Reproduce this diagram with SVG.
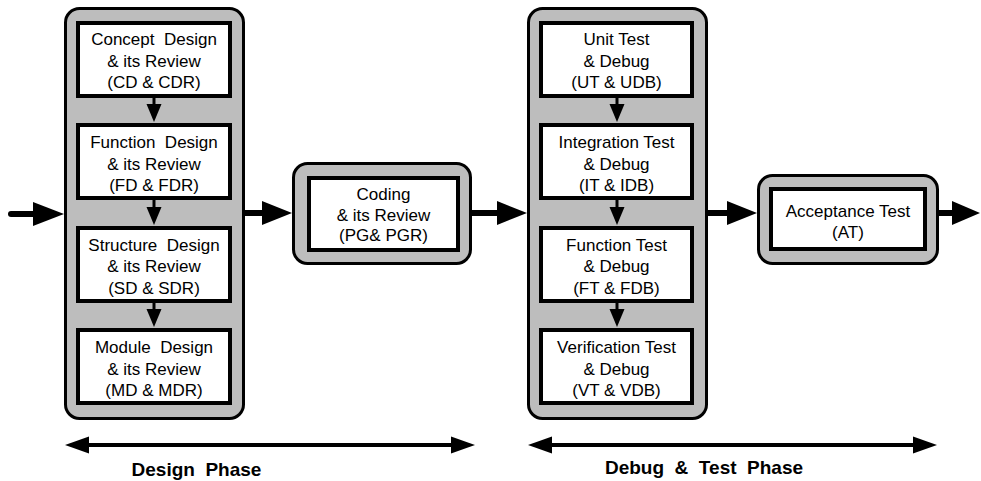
<svg xmlns="http://www.w3.org/2000/svg" width="981" height="481" viewBox="0 0 981 481">
<style>
.cont{fill:#bdbdbd;stroke:#000;stroke-width:3}
.box{fill:#fff;stroke:#000;stroke-width:4}
.t{font-family:"Liberation Sans",Arial,sans-serif;font-size:17px;fill:#000;text-anchor:middle}
.ph{font-family:"Liberation Sans",Arial,sans-serif;font-size:19px;font-weight:bold;fill:#000;text-anchor:middle}
.ln{stroke:#000;fill:none}
.hd{fill:#000}
</style>
<rect width="981" height="481" fill="#fff"/>
<g id="design-group">
<rect class="cont" x="65.5" y="8.5" width="178" height="410" rx="14"/>
</g>
<g id="cd">
<rect class="box" x="78" y="23" width="152" height="73"/>
<text class="t" x="154" y="45" xml:space="preserve">Concept  Design</text>
<text class="t" x="154" y="66.5">&amp; its Review</text>
<text class="t" x="154" y="88">(CD &amp; CDR)</text>
</g>
<g id="fd">
<rect class="box" x="78" y="125" width="152" height="73"/>
<text class="t" x="154" y="148" xml:space="preserve">Function  Design</text>
<text class="t" x="154" y="169.5">&amp; its Review</text>
<text class="t" x="154" y="191">(FD &amp; FDR)</text>
</g>
<g id="sd">
<rect class="box" x="78" y="228" width="152" height="73"/>
<text class="t" x="154" y="250.5" xml:space="preserve">Structure  Design</text>
<text class="t" x="154" y="272">&amp; its Review</text>
<text class="t" x="154" y="293.5">(SD &amp; SDR)</text>
</g>
<g id="md">
<rect class="box" x="78" y="330" width="152" height="73"/>
<text class="t" x="154" y="353" xml:space="preserve">Module  Design</text>
<text class="t" x="154" y="374.5">&amp; its Review</text>
<text class="t" x="154" y="396">(MD &amp; MDR)</text>
</g>
<g id="coding-group">
<rect class="cont" x="293.5" y="163.5" width="177" height="100" rx="14"/>
</g>
<g id="pg">
<rect class="box" x="309" y="178" width="149" height="72"/>
<text class="t" x="383.5" y="200">Coding</text>
<text class="t" x="383.5" y="220.5">&amp; its Review</text>
<text class="t" x="383.5" y="241">(PG&amp; PGR)</text>
</g>
<g id="test-group">
<rect class="cont" x="528.5" y="8.5" width="178" height="410" rx="14"/>
</g>
<g id="ut">
<rect class="box" x="541" y="23" width="151" height="73"/>
<text class="t" x="616.5" y="45">Unit Test</text>
<text class="t" x="616.5" y="66.5">&amp; Debug</text>
<text class="t" x="616.5" y="88">(UT &amp; UDB)</text>
</g>
<g id="it">
<rect class="box" x="541" y="125" width="151" height="73"/>
<text class="t" x="616.5" y="148">Integration Test</text>
<text class="t" x="616.5" y="169.5">&amp; Debug</text>
<text class="t" x="616.5" y="191">(IT &amp; IDB)</text>
</g>
<g id="ft">
<rect class="box" x="541" y="228" width="151" height="73"/>
<text class="t" x="616.5" y="250.5">Function Test</text>
<text class="t" x="616.5" y="272">&amp; Debug</text>
<text class="t" x="616.5" y="293.5">(FT &amp; FDB)</text>
</g>
<g id="vt">
<rect class="box" x="541" y="330" width="151" height="73"/>
<text class="t" x="616.5" y="353">Verification Test</text>
<text class="t" x="616.5" y="374.5">&amp; Debug</text>
<text class="t" x="616.5" y="396">(VT &amp; VDB)</text>
</g>
<g id="acc-group">
<rect class="cont" x="758.5" y="175.5" width="179" height="88" rx="14"/>
</g>
<g id="at">
<rect class="box" x="771" y="189" width="154" height="60"/>
<text class="t" x="848" y="217">Acceptance Test</text>
<text class="t" x="848" y="238">(AT)</text>
</g>
<g id="connectors">
<line class="ln" x1="154" y1="98" x2="154" y2="106" stroke-width="3"/>
<polygon class="hd" points="146.5,104 161.5,104 154,122"/>
<line class="ln" x1="154" y1="200" x2="154" y2="209" stroke-width="3"/>
<polygon class="hd" points="146.5,207 161.5,207 154,225"/>
<line class="ln" x1="154" y1="303" x2="154" y2="311" stroke-width="3"/>
<polygon class="hd" points="146.5,309 161.5,309 154,327"/>
<line class="ln" x1="617" y1="98" x2="617" y2="106" stroke-width="3"/>
<polygon class="hd" points="609.5,104 624.5,104 617,122"/>
<line class="ln" x1="617" y1="200" x2="617" y2="209" stroke-width="3"/>
<polygon class="hd" points="609.5,207 624.5,207 617,225"/>
<line class="ln" x1="617" y1="303" x2="617" y2="311" stroke-width="3"/>
<polygon class="hd" points="609.5,309 624.5,309 617,327"/>
<line class="ln" x1="11" y1="214" x2="36" y2="214" stroke-width="6" stroke-linecap="round"/>
<polygon class="hd" points="33,202 64,214 33,226"/>
<line class="ln" x1="245" y1="213" x2="265" y2="213" stroke-width="6"/>
<polygon class="hd" points="262,201 292,213 262,225"/>
<line class="ln" x1="472" y1="213" x2="500" y2="213" stroke-width="6"/>
<polygon class="hd" points="497,201 527,213 497,225"/>
<line class="ln" x1="708" y1="213" x2="730" y2="213" stroke-width="6"/>
<polygon class="hd" points="727,201 757,213 727,225"/>
<line class="ln" x1="939" y1="213" x2="955" y2="213" stroke-width="6"/>
<polygon class="hd" points="952,201 980,213 952,225"/>
<line class="ln" x1="85" y1="445" x2="455" y2="445" stroke-width="4"/>
<polygon class="hd" points="65,445 89,436.5 89,453.5"/>
<polygon class="hd" points="475,445 451,436.5 451,453.5"/>
<line class="ln" x1="548" y1="445" x2="917" y2="445" stroke-width="4"/>
<polygon class="hd" points="528,445 552,436.5 552,453.5"/>
<polygon class="hd" points="937,445 913,436.5 913,453.5"/>
</g>
<text class="ph" x="196.5" y="476" xml:space="preserve">Design  Phase</text>
<text class="ph" x="704" y="474" xml:space="preserve">Debug  &amp;  Test  Phase</text>
</svg>
